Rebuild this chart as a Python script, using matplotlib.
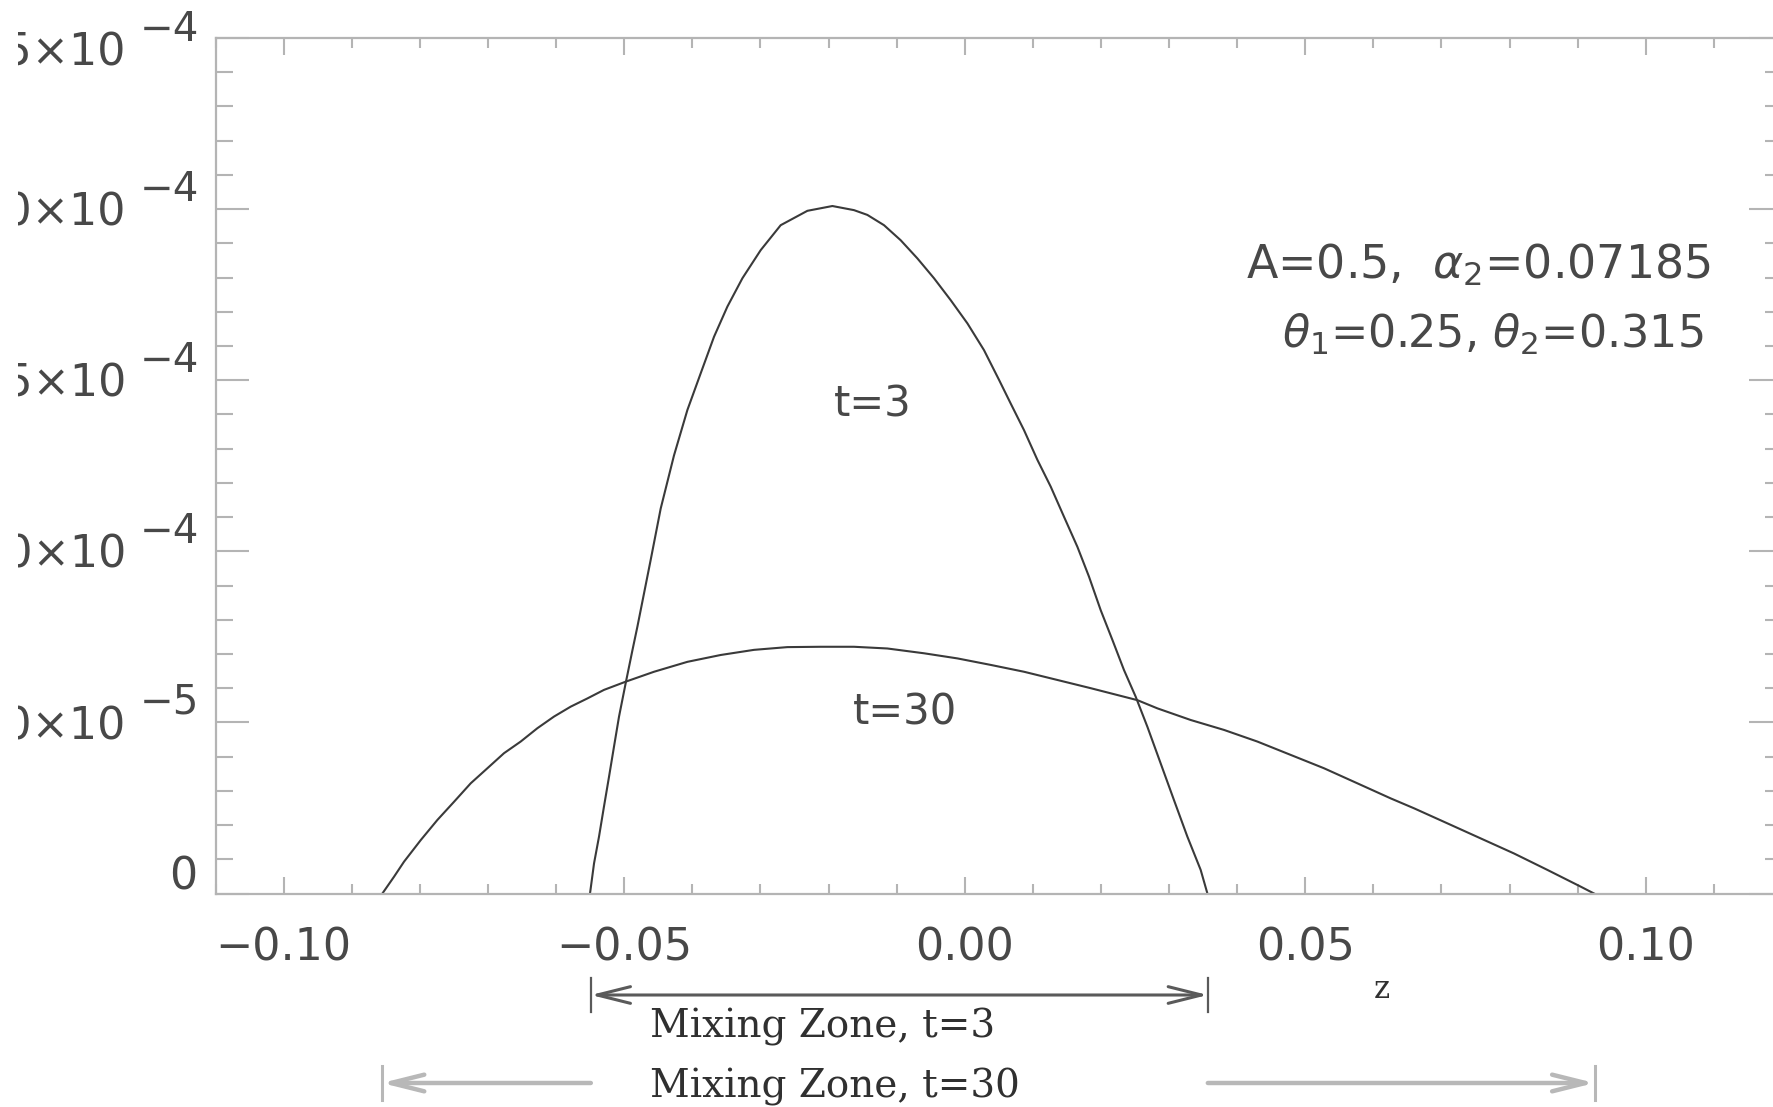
import matplotlib
matplotlib.use("Agg")
import matplotlib.pyplot as plt
from matplotlib.ticker import MultipleLocator
from matplotlib import transforms

# curve t=3 (z, amplitude)
z_t3 = [-0.05502, -0.05443, -0.05370, -0.05297, -0.05223, -0.05150, -0.05076, -0.04978,
        -0.04880, -0.04806, -0.04611, -0.04464, -0.04269, -0.04072, -0.03877,
        -0.03681, -0.03485, -0.03264, -0.02996, -0.02702, -0.02310, -0.01943, -0.01626,
        -0.01429, -0.01185, -0.00940, -0.00695, -0.00451, -0.00206, 0.00040, 0.00283,
        0.00504, 0.00675, 0.00871, 0.01068, 0.01263, 0.01458, 0.01655, 0.01825,
        0.01997, 0.02169, 0.02339, 0.02511, 0.02683, 0.02878, 0.03073, 0.03270,
        0.03465, 0.03564]
a_t3 = [0.0, 8.8e-6, 1.66e-5, 2.54e-5, 3.41e-5, 4.29e-5, 5.17e-5, 6.15e-5,
        7.10e-5, 7.80e-5, 9.75e-5, 1.125e-4, 1.28e-4, 1.413e-4, 1.520e-4,
        1.627e-4, 1.715e-4, 1.798e-4, 1.880e-4, 1.953e-4, 1.995e-4, 2.009e-4, 1.997e-4,
        1.983e-4, 1.953e-4, 1.909e-4, 1.856e-4, 1.798e-4, 1.734e-4, 1.666e-4, 1.588e-4,
        1.501e-4, 1.432e-4, 1.354e-4, 1.267e-4, 1.189e-4, 1.101e-4, 1.013e-4, 9.26e-5,
        8.28e-5, 7.41e-5, 6.53e-5, 5.75e-5, 4.87e-5, 3.80e-5, 2.73e-5, 1.66e-5,
        6.9e-6, 0.0]

# curve t=30
z_t30 = [-0.08551, -0.08380, -0.08233, -0.07988, -0.07743, -0.07499, -0.07254, -0.07009,
         -0.06765, -0.06520, -0.06275, -0.06031, -0.05786, -0.05541, -0.05297, -0.04978,
         -0.04562, -0.04072, -0.03583, -0.03094, -0.02604, -0.02115, -0.01626, -0.01136,
         -0.00598, -0.00107, 0.00382, 0.00871, 0.01361, 0.01850, 0.02536, 0.02830,
         0.03319, 0.03808, 0.04298, 0.04787, 0.05276, 0.05766, 0.06255, 0.06598,
         0.07088, 0.07577, 0.08066, 0.08556, 0.09046, 0.09241]
a_t30 = [0.0, 4.9e-6, 9.3e-6, 1.56e-5, 2.15e-5, 2.68e-5, 3.22e-5, 3.66e-5,
         4.10e-5, 4.44e-5, 4.83e-5, 5.17e-5, 5.46e-5, 5.70e-5, 5.95e-5, 6.19e-5,
         6.48e-5, 6.77e-5, 6.97e-5, 7.12e-5, 7.20e-5, 7.21e-5, 7.21e-5, 7.16e-5,
         7.02e-5, 6.87e-5, 6.68e-5, 6.48e-5, 6.24e-5, 6.00e-5, 5.65e-5, 5.41e-5,
         5.07e-5, 4.78e-5, 4.44e-5, 4.05e-5, 3.66e-5, 3.22e-5, 2.78e-5, 2.49e-5,
         2.05e-5, 1.61e-5, 1.17e-5, 6.9e-6, 2.0e-6, 0.0]

# mixing zone extents
zone_t3 = (-0.0549, 0.0357)
zone_t30 = (-0.0856, 0.0925)

xtick_vals = [-0.10, -0.05, 0.00, 0.05, 0.10]
xtick_labels = ["\u22120.10", "\u22120.05", "0.00", "0.05", "0.10"]
ytick_vals = [5e-5, 1e-4, 1.5e-4, 2e-4, 2.5e-4]
ytick_mant = ["5.0", "1.0", "1.5", "2.0", "2.5"]
ytick_exp = ["\u22125", "\u22124", "\u22124", "\u22124", "\u22124"]

W, H = 1773, 1107
plt.rcParams['font.family'] = ['DejaVu Sans']
plt.rcParams['mathtext.fontset'] = 'dejavusans'

fig = plt.figure(figsize=(W / 100, H / 100), dpi=100)
ax = fig.add_axes([215.6 / W, 1 - 893.5 / H, 0.23 * 6810 / W, (893.5 - 38) / H])

line_c = '#3a3a3a'
ax.plot(z_t3, a_t3, color=line_c, lw=1.5)
ax.plot(z_t30, a_t30, color=line_c, lw=1.5)

ax.set_xlim(-0.11, 0.12)
ax.set_ylim(0, 2.5e-4)

frame_c = '#b4b4b4'
txt_c = '#484848'
for s in ax.spines.values():
    s.set_color(frame_c)
    s.set_linewidth(1.6)

ax.set_xticks(xtick_vals, labels=xtick_labels)
ax.xaxis.set_minor_locator(MultipleLocator(0.01))
ax.set_yticks([0] + ytick_vals, labels=[""] * (len(ytick_vals) + 1))
ax.yaxis.set_minor_locator(MultipleLocator(1e-5))
ax.tick_params(which='both', direction='in', top=True, right=True,
               color=frame_c, width=1.5, labelcolor=txt_c)
ax.tick_params(axis='x', which='major', length=12.5, labelsize=32, pad=24)
ax.tick_params(axis='x', which='minor', length=7)
ax.tick_params(axis='y', which='major', length=24)
ax.tick_params(axis='y', which='minor', length=12)

# the original figure is cropped on the left, mantissas are cut
clip = transforms.TransformedBbox(transforms.Bbox([[18 / W, 0], [1, 1]]), fig.transFigure)

# y tick labels, mantissa x 10 with raised exponent
ytr = ax.get_yaxis_transform()
for i, (v, m, e) in enumerate(zip(ytick_vals, ytick_mant, ytick_exp)):
    top = (i == len(ytick_vals) - 1)
    dy_m = -11 if top else -3
    dy_e = 6 if top else 14
    t = ax.annotate(m + "\u00d710", xy=(0, v), xycoords=ytr, xytext=(-64.5, dy_m),
                    textcoords='offset points', ha='right', va='center',
                    fontsize=32, color=txt_c, annotation_clip=False)
    t.set_clip_box(clip)
    t.set_clip_on(True)
    ax.annotate(e, xy=(0, v), xycoords=ytr, xytext=(-12, dy_e),
                textcoords='offset points', ha='right', va='center',
                fontsize=29, color=txt_c, annotation_clip=False)
ax.annotate("0", xy=(0, 0), xycoords=ytr, xytext=(-13.4, 12),
            textcoords='offset points', ha='right', va='center',
            fontsize=32, color=txt_c, annotation_clip=False)

# curve labels
ax.text(-0.0135, 1.395e-4, "t=3", ha='center', va='baseline', fontsize=30, color=txt_c)
ax.text(-0.0087, 4.95e-5, "t=30", ha='center', va='baseline', fontsize=30, color=txt_c)

# parameters
fig.text(1478 / W, 1 - 278 / H, r"A=0.5,  $\alpha_2$=0.07185", ha='center', va='baseline',
         fontsize=33, color=txt_c)
fig.text(1493 / W, 1 - 348 / H, r"$\theta_1$=0.25, $\theta_2$=0.315", ha='center', va='baseline',
         fontsize=32, color=txt_c)

# x label
fig.text(1382 / W, 1 - 998 / H, "z", ha='center', va='baseline', family='DejaVu Serif',
         fontsize=22, color='#303030')

# mixing zone arrows below the axis
bt = transforms.blended_transform_factory(ax.transData, fig.transFigure)
y3 = 1 - 995 / H
y30 = 1 - 1083 / H
dark = '#5a5a5a'
light = '#b8b8b8'
ax.annotate('', xy=(zone_t3[1], y3), xytext=(zone_t3[0], y3),
            xycoords=('data', 'figure fraction'), textcoords=('data', 'figure fraction'),
            arrowprops=dict(arrowstyle='<->,head_length=1.2,head_width=0.3', color=dark,
                            lw=2.2, shrinkA=0, shrinkB=0, mutation_scale=20),
            annotation_clip=False)
for zx in zone_t3:
    ax.plot([zx, zx], [1 - 978 / H, 1 - 1012 / H], transform=bt, color=dark, lw=1.6, clip_on=False)

for z_end, z_start in [(zone_t30[0], zone_t3[0]), (zone_t30[1], zone_t3[1])]:
    ax.annotate('', xy=(z_end, y30), xytext=(z_start, y30),
                xycoords=('data', 'figure fraction'), textcoords=('data', 'figure fraction'),
                arrowprops=dict(arrowstyle='->,head_length=1.2,head_width=0.3', color=light,
                                lw=3.2, shrinkA=0, shrinkB=0, mutation_scale=20),
                annotation_clip=False)
for zx in zone_t30:
    ax.plot([zx, zx], [1 - 1066 / H, 1 - 1100 / H], transform=bt, color=light, lw=2.2, clip_on=False)

fig.text(650 / W, 1 - 1038 / H, "Mixing Zone, t=3", ha='left', va='baseline',
         family='DejaVu Serif', fontsize=28, color='#303030')
fig.text(650 / W, 1 - 1098 / H, "Mixing Zone, t=30", ha='left', va='baseline',
         family='DejaVu Serif', fontsize=28, color='#303030')

fig.savefig("out.png", dpi=100)
